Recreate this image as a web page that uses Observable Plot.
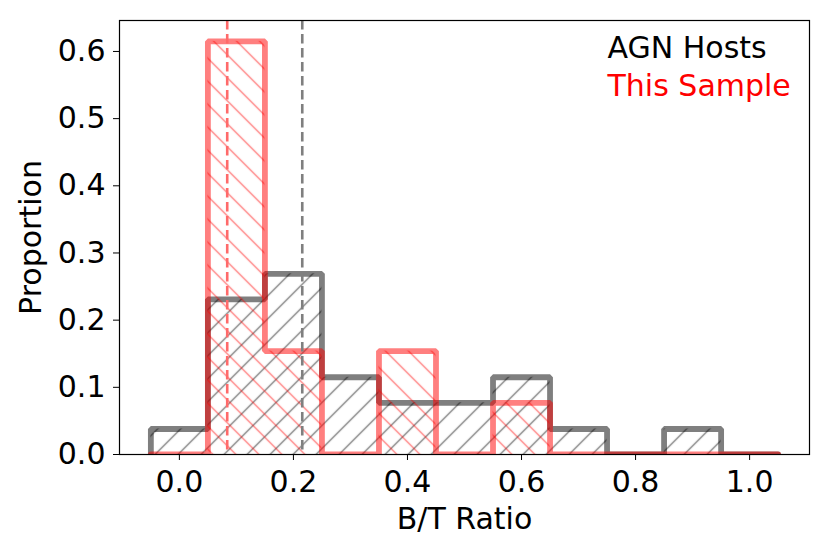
<!DOCTYPE html>
<html>
<head>
<meta charset="utf-8">
<script src="https://cdn.jsdelivr.net/npm/d3@7"></script>
<script src="https://cdn.jsdelivr.net/npm/@observablehq/plot@0.6"></script>
<style>
  html, body { margin: 0; padding: 0; background: white; }
  #chart { width: 830px; height: 554px; }
</style>
</head>
<body>
<div id="chart"></div>
<script>
// Bin centres (B/T ratio) and proportions per bin
const binCenters = [0.0, 0.1, 0.2, 0.3, 0.4, 0.5, 0.6, 0.7, 0.8, 0.9, 1.0];
const binWidth = 0.1;
const agnHosts   = [0.038, 0.231, 0.269, 0.115, 0.077, 0.077, 0.115, 0.038, 0, 0.038, 0];
const thisSample = [0, 0.615, 0.154, 0, 0.154, 0, 0.077, 0, 0, 0, 0];
// Median lines
const agnMedian = [0.2155];
const sampleMedian = [0.0839];
// Legend labels
const legendLabels = ["AGN Hosts", "This Sample"];
const xTicks = [0.0, 0.2, 0.4, 0.6, 0.8, 1.0];
const yTicks = [0.0, 0.1, 0.2, 0.3, 0.4, 0.5, 0.6];

function bins(values) {
  return binCenters.map((c, i) => ({x1: c - binWidth / 2, x2: c + binWidth / 2, y: values[i]}));
}
function outline(values) {
  const b = bins(values);
  const pts = [{x: b[0].x1, y: 0}];
  for (const d of b) { pts.push({x: d.x1, y: d.y}); pts.push({x: d.x2, y: d.y}); }
  pts.push({x: b[b.length - 1].x2, y: 0});
  return pts;
}

const font = "DejaVu Sans, sans-serif";
const fs = 30;

const plot = Plot.plot({
  width: 830,
  height: 554,
  marginLeft: 119,
  marginRight: 21,
  marginTop: 20,
  marginBottom: 100,
  style: {fontFamily: font, fontSize: fs + "px", background: "white", color: "black", overflow: "visible"},
  x: {domain: [-0.105, 1.105], ticks: xTicks, tickFormat: d3.format(".1f"), tickSize: 6, tickPadding: 10,
      label: "B/T Ratio", labelAnchor: "center", labelOffset: 74, labelArrow: "none"},
  y: {domain: [0, 0.6461], ticks: yTicks, tickFormat: d3.format(".1f"), tickSize: 6, tickPadding: 8,
      label: "Proportion", labelAnchor: "center", labelOffset: 100, labelArrow: "none"},
  marks: [
    Plot.rectY(bins(agnHosts), {x1: "x1", x2: "x2", y: "y", fill: "url(#hatchGray)", clip: true}),
    Plot.line(outline(agnHosts), {x: "x", y: "y", stroke: "black", strokeOpacity: 0.5, strokeWidth: 5.8, strokeLinejoin: "miter", clip: true}),
    Plot.rectY(bins(thisSample), {x1: "x1", x2: "x2", y: "y", fill: "url(#hatchRed)", clip: true}),
    Plot.line(outline(thisSample), {x: "x", y: "y", stroke: "red", strokeOpacity: 0.5, strokeWidth: 5.8, strokeLinejoin: "miter", clip: true}),
    Plot.ruleX(sampleMedian, {x: d => d, stroke: "#ff6a6a", strokeWidth: 2.6, strokeDasharray: "9.5,4.5"}),
    Plot.ruleX(agnMedian, {x: d => d, stroke: "#7f7f7f", strokeWidth: 2.6, strokeDasharray: "9.5,4.5"}),
    Plot.frame({stroke: "black", strokeWidth: 1.2}),
    Plot.text([legendLabels[0]], {text: d => d, frameAnchor: "top-right", textAnchor: "start", lineAnchor: "bottom",
      dx: -202, dy: 37, fill: "black", fontSize: fs, fontFamily: font}),
    Plot.text([legendLabels[1]], {text: d => d, frameAnchor: "top-right", textAnchor: "start", lineAnchor: "bottom",
      dx: -202, dy: 75, fill: "red", fontSize: fs, fontFamily: font})
  ]
});

// hatch patterns
const svg = d3.select(plot);
const defs = svg.insert("defs", ":first-child");
function hatch(id, color, angle, spacing) {
  const p = defs.append("pattern")
    .attr("id", id)
    .attr("patternUnits", "userSpaceOnUse")
    .attr("width", spacing)
    .attr("height", spacing)
    .attr("patternTransform", `rotate(${angle})`);
  p.append("line")
    .attr("x1", spacing / 2).attr("y1", -1)
    .attr("x2", spacing / 2).attr("y2", spacing + 1)
    .attr("stroke", color)
    .attr("stroke-opacity", 0.5)
    .attr("stroke-width", 1.4);
}
const perp = 23 / Math.SQRT2;
hatch("hatchGray", "black", 45, perp);
hatch("hatchRed", "red", -45, perp);

document.getElementById("chart").appendChild(plot);
</script>
</body>
</html>
